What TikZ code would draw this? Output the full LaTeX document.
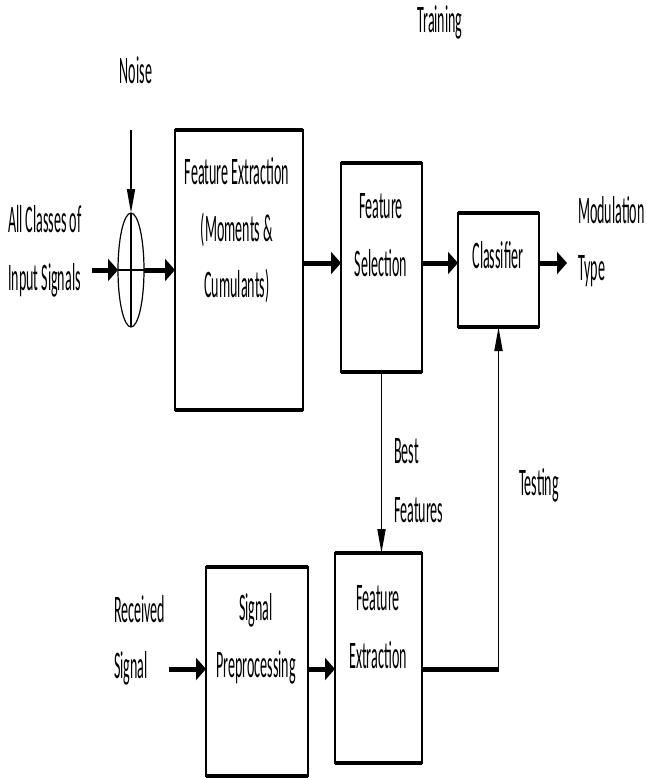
\documentclass[tikz,border=0pt]{standalone}
\usepackage{fontspec}
\newfontfamily\narrowcal[FakeStretch=0.36]{Carlito}
\usetikzlibrary{arrows.meta,shapes.geometric}
\begin{document}
\begin{tikzpicture}[x=1pt,y=-1pt,
  txt/.style={font=\narrowcal\fontsize{39}{47}\selectfont, inner sep=0pt, anchor=base, text=black},
  ltxt/.style={txt, anchor=base west},
  blk/.style={draw, line width=1.8pt, inner sep=0pt, outer sep=0pt},
  hedge/.style={line width=4.5pt},
  harr/.style={line width=5pt, -{Triangle[length=10pt,width=22pt]}},
  varr/.style={line width=1.8pt, -{Triangle[length=24pt,width=8pt]}},
]
\useasboundingbox (0,0) rectangle (646,778);

% blocks
\node[blk, minimum width=128pt, minimum height=280pt] (fe1) at (239,270) {};
\node[blk, minimum width=81pt, minimum height=209pt] (fs) at (381.5,267.5) {};
\node[blk, minimum width=81pt, minimum height=114pt] (cl) at (498.5,270) {};
\node[blk, minimum width=87pt, minimum height=210pt] (fe2) at (378.5,658) {};
\node[blk, minimum width=102pt, minimum height=209pt] (sp) at (257,671.5) {};
\foreach \b in {fe1,fs,cl,fe2,sp}{
  \draw[hedge] (\b.north west) -- (\b.north east);
  \draw[hedge] (\b.south west) -- (\b.south east);
}

% summing junction
\node[draw, ellipse, line width=1.2pt, minimum width=26pt, minimum height=114pt, inner sep=0pt, outer sep=0pt] (sum) at (131,270) {};
\draw[line width=1.2pt] (sum.north) -- (sum.south);
\draw[line width=2.2pt] (sum.west) -- (sum.east);

% free ends
\coordinate (noisein) at (131,130);
\coordinate (sigin) at (92,270);
\coordinate (r2) at (0,263);
\coordinate (r3) at (0,669);
\coordinate (out) at (567,263);
\coordinate (recin) at (169,669);

% connectors
\draw[varr] (noisein) -- (sum.north);
\draw[harr] (sigin) -- (sum.west);
\draw[harr] (sum.east) -- (fe1.west |- sum.east);
\draw[harr] (fe1.east |- r2) -- (fs.west |- r2);
\draw[harr] (fs.east |- r2) -- (cl.west |- r2);
\draw[harr] (cl.east |- r2) -- (out);
\draw[varr] (fs.south) -- (fs.south |- fe2.north);
\draw[harr] (recin) -- (sp.west |- r3);
\draw[harr] (sp.east |- r3) -- (fe2.west |- r3);
\draw[line width=5pt] (fe2.east |- r3) -- ([xshift=0.9pt]cl.south |- r3);
\draw[varr] ([yshift=-2.5pt]cl.south |- r3) -- (cl.south);

% texts
\node[txt] (ttrain) at (440,33) {Training};
\node[txt] (tnoise) at (136,84) {Noise};
\node[ltxt] (tall) at (8,232) {All Classes of};
\node[ltxt] (tinp) at (8,290) {Input Signals};
\node[txt] (tfe1a) at (237,185) {Feature Extraction};
\node[txt] (tfe1b) at (237,241) {(Moments \&};
\node[txt] (tfe1c) at (237,297) {Cumulants)};
\node[txt] (tfsa) at (381,218) {Feature};
\node[txt] (tfsb) at (381,276) {Selection};
\node[txt] (tcl) at (498,268) {Classifier};
\node[ltxt] (tmod) at (578,223) {Modulation};
\node[ltxt] (ttype) at (578,280) {Type};
\node[ltxt] (tbest) at (394,463) {Best};
\node[ltxt] (tbf) at (394,522) {Features};
\node[ltxt] (ttest) at (519,495) {Testing};
\node[txt] (tfe2a) at (378,610) {Feature};
\node[txt] (tfe2b) at (378,668) {Extraction};
\node[txt] (tspa) at (256,620) {Signal};
\node[txt] (tspb) at (256,677) {Preprocessing};
\node[ltxt] (trec) at (114,622) {Received};
\node[ltxt] (tsig) at (114,678) {Signal};
\end{tikzpicture}
\end{document}
